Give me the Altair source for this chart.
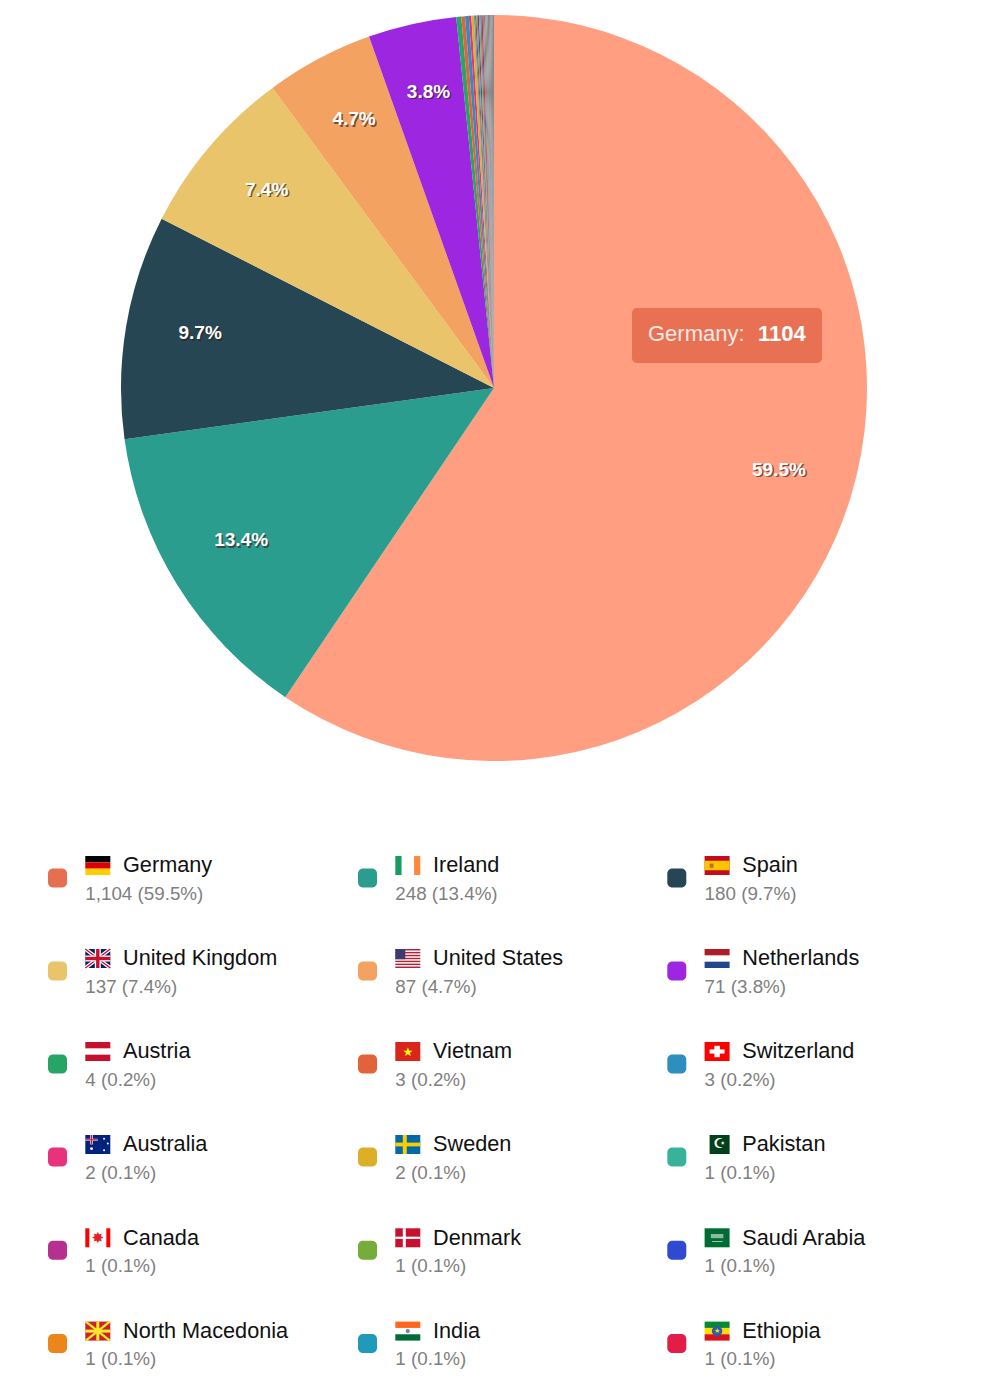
import altair as alt
import pandas as pd

# ---- values ----
NAMES = ["Germany", "Ireland", "Spain", "United Kingdom", "United States", "Netherlands",
         "Austria", "Vietnam", "Switzerland", "Australia", "Sweden", "Pakistan",
         "Canada", "Denmark", "Saudi Arabia", "North Macedonia", "India", "Ethiopia"]
VALUES = [1104, 248, 180, 137, 87, 71, 4, 3, 3, 2, 2, 1, 1, 1, 1, 1, 1, 1]
SHARES = [59.5, 13.4, 9.7, 7.4, 4.7, 3.8, 0.2, 0.2, 0.2, 0.1, 0.1, 0.1, 0.1, 0.1, 0.1, 0.1, 0.1, 0.1]
COLORS = ["#E76F51", "#2A9D8F", "#264653", "#E9C46A", "#F4A261", "#9D26E0",
          "#27A567", "#E2633B", "#2E8FBF", "#E8327C", "#DDAE28", "#38B29B",
          "#B6308F", "#76AC3A", "#2F49D1", "#EC861A", "#1F9AB8", "#E11D48"]
# slices in the pie that have no legend row
EXTRA_NAMES = ["x1", "x2", "x3", "x4", "x5", "x6", "x7", "x8", "x9"]
EXTRA_VALUES = [1, 1, 1, 1, 1, 1, 1, 1, 1]
EXTRA_COLORS = ["#8A8F7A", "#7C86A0", "#A08A70", "#7F9A8E", "#8E7FA0", "#9A8A80", "#808890", "#8C8478", "#7E8C98"]
HOVER_COLOR = "#FF9E80"
TOOLTIP_NAME = "Germany:"
TOOLTIP_VALUE = "1104"

# ---- layout, in page pixels ----
W, H = 966, 1384
CX, CY, R = 494, 388, 373
COL_X = [48.0, 358.0, 667.3]
ROW_Y = [878, 971, 1064, 1157, 1250.3, 1343.6]

sx = alt.Scale(domain=[8, 8 + W], range=[0, W])
sy = alt.Scale(domain=[8, 8 + H], range=[0, H])

# ---- flags: fractions of the flag box ----
FLAG_RECTS = {
    "Germany": [(0, 0, 1, 1/3, "#000000"), (0, 1/3, 1, 2/3, "#DD0000"), (0, 2/3, 1, 1, "#FFCE00")],
    "Ireland": [(0, 0, 1/4, 1, "#169B62"), (3/4, 0, 1, 1, "#FF883E")],
    "Spain": [(0, 0, 1, 1, "#C60B1E"), (0, .25, 1, .75, "#FFC400"), (.2, .4, .36, .62, "#B5762F")],
    "United Kingdom": [(0, 0, 1, 1, "#012169")],
    "United States": [(0, 0, 1, 1, "#FFFFFF")] + [(0, i*2/13, 1, (i*2+1)/13, "#B22234") for i in range(7)] + [(0, 0, .4, 7/13, "#3C3B6E")],
    "Netherlands": [(0, 0, 1, 1/3, "#AE1C28"), (0, 2/3, 1, 1, "#21468B")],
    "Austria": [(0, 0, 1, 1/3, "#C8102E"), (0, 2/3, 1, 1, "#C8102E")],
    "Vietnam": [(0, 0, 1, 1, "#DA251D")],
    "Switzerland": [(0, 0, 1, 1, "#FF0000"), (.2, .39, .8, .61, "#FFFFFF"), (.39, .2, .61, .8, "#FFFFFF")],
    "Australia": [(0, 0, 1, 1, "#00247D"), (.2, 0, .3, .5, "#FFFFFF"), (0, .2, .5, .3, "#FFFFFF"), (.225, 0, .275, .5, "#CF142B"), (0, .22, .5, .28, "#CF142B")],
    "Sweden": [(0, 0, 1, 1, "#006AA7"), (.3, 0, .46, 1, "#FECC00"), (0, .4, 1, .6, "#FECC00")],
    "Pakistan": [(.2, 0, 1, 1, "#01411C")],
    "Canada": [(0, 0, .16, 1, "#FF0000"), (.84, 0, 1, 1, "#FF0000")],
    "Denmark": [(0, 0, 1, 1, "#C8102E"), (.3, 0, .42, 1, "#FFFFFF"), (0, .44, 1, .56, "#FFFFFF")],
    "Saudi Arabia": [(0, 0, 1, 1, "#006C35"), (.25, .3, .75, .52, "#8FB8A0"), (.3, .68, .72, .72, "#CFE3D5")],
    "North Macedonia": [(0, 0, 1, 1, "#CE2028")],
    "India": [(0, 0, 1, 1/3, "#FF671F"), (0, 2/3, 1, 1, "#046A38")],
    "Ethiopia": [(0, 0, 1, 1/3, "#078930"), (0, 1/3, 1, 2/3, "#FCDD09"), (0, 2/3, 1, 1, "#DA121A")],
}
FLAG_LINES = {
    "United Kingdom": [(0, 0, 1, 1, "#FFFFFF", 3.6), (0, 1, 1, 0, "#FFFFFF", 3.6),
                       (0, 0, 1, 1, "#C8102E", 1.4), (0, 1, 1, 0, "#C8102E", 1.4),
                       (.5, 0, .5, 1, "#FFFFFF", 6), (0, .5, 1, .5, "#FFFFFF", 6),
                       (.5, 0, .5, 1, "#C8102E", 3.4), (0, .5, 1, .5, "#C8102E", 3.4)],
    "North Macedonia": [(.5, 0, .5, 1, "#F8E92E", 3), (0, .5, 1, .5, "#F8E92E", 3),
                        (.02, 0, .98, 1, "#F8E92E", 2.4), (.02, 1, .98, 0, "#F8E92E", 2.4)],
}
# flag, x fraction, y fraction, point area, colour
FLAG_DOTS = [
    ("Ethiopia", .5, .5, 110, "#2B5BAE"),
    ("North Macedonia", .5, .5, 36, "#F8E92E"),
    ("India", .5, .5, 18, "#7A7FA8"),
    ("Australia", .75, .2, 4, "#FFFFFF"),
    ("Australia", .9, .45, 4, "#FFFFFF"),
    ("Australia", .75, .8, 4, "#FFFFFF"),
    ("Australia", .25, .72, 8, "#FFFFFF"),
]
# flag, glyph, x fraction, y fraction, font size, colour
FLAG_GLYPHS = [
    ("Vietnam", "★", .5, .5, 12, "#FFFF00"),
    ("Pakistan", "☪", .6, .47, 14, "#FFFFFF"),
    ("Canada", "✸", .5, .5, 15, "#EA1C24"),
    ("Ethiopia", "★", .5, .5, 7, "#FCDD09"),
]

FLAG_W, FLAG_H = 25, 19
FLAG_DX, FLAG_DY = 37.3, -22

# ---- tables ----
all_names = NAMES + EXTRA_NAMES
pie = pd.DataFrame({
    "name": all_names,
    "value": VALUES + EXTRA_VALUES,
    "idx": range(len(all_names)),
    "color": [HOVER_COLOR] + COLORS[1:] + EXTRA_COLORS,
    "label": [f"{s:.1f}%" if s >= 1 else "" for s in SHARES] + [""] * len(EXTRA_NAMES),
})

rows, rects, lines, dots, glyphs = [], [], [], [], []
pos = {}
for i, (n, v, s, c) in enumerate(zip(NAMES, VALUES, SHARES, COLORS)):
    x0, yc = COL_X[i % 3], ROW_Y[i // 3]
    pos[n] = (x0 + FLAG_DX, yc + FLAG_DY)
    rows.append({"name": n, "sub": f"{v:,} ({s}%)", "color": c,
                 "sw0": x0, "sw1": x0 + 19, "sy0": yc - 9.5, "sy1": yc + 9.5,
                 "fx": x0 + FLAG_DX, "tx": x0 + 75, "ty": yc - 12.7, "uy": yc + 15.6})
for n, items in FLAG_RECTS.items():
    fx, fy = pos[n]
    for a, b, c, d, col in items:
        rects.append({"x0": fx + a*FLAG_W, "x1": fx + c*FLAG_W, "y0": fy + b*FLAG_H, "y1": fy + d*FLAG_H, "c": col})
for n, items in FLAG_LINES.items():
    fx, fy = pos[n]
    for a, b, c, d, col, w in items:
        lines.append({"x0": fx + a*FLAG_W, "x1": fx + c*FLAG_W, "y0": fy + b*FLAG_H, "y1": fy + d*FLAG_H, "c": col, "w": w})
for n, a, b, size, col in FLAG_DOTS:
    fx, fy = pos[n]
    dots.append({"x": fx + a*FLAG_W, "y": fy + b*FLAG_H, "s": size, "c": col})
for n, g, a, b, size, col in FLAG_GLYPHS:
    fx, fy = pos[n]
    glyphs.append({"g": g, "x": fx + a*FLAG_W, "y": fy + b*FLAG_H, "s": size, "c": col})

legend = pd.DataFrame(rows)
FONT = "Liberation Sans"

# ---- pie ----
theta = alt.Theta("value:Q", stack=True)
slices = alt.Chart(pie).mark_arc(outerRadius=R, innerRadius=0).encode(
    theta=theta, order=alt.Order("idx:Q"),
    color=alt.Color("color:N", scale=None),
    x=alt.value(CX - 8), y=alt.value(CY - 8), detail="name:N")

def pie_text(color, dx, dy, opacity):
    return alt.Chart(pie).mark_text(radius=298, font=FONT, fontSize=19, fontWeight="bold",
                                    color=color, dx=dx, dy=dy - 5.5, opacity=opacity).encode(
        theta=theta, order=alt.Order("idx:Q"), text="label:N",
        x=alt.value(CX - 8), y=alt.value(CY - 8), detail="name:N")

# ---- tooltip ----
tip = pd.DataFrame({"x0": [632], "x1": [822], "y0": [308], "y1": [363],
                    "tx": [648], "vx": [758], "ty": [334], "a": [TOOLTIP_NAME], "b": [TOOLTIP_VALUE]})
X = lambda f: alt.X(f, scale=sx, axis=None)
Y = lambda f: alt.Y(f, scale=sy, axis=None)
tip_box = alt.Chart(tip).mark_rect(cornerRadius=5, color="#E76F51", opacity=.95).encode(
    x=X("x0:Q"), x2="x1:Q", y=Y("y0:Q"), y2="y1:Q")
tip_a = alt.Chart(tip).mark_text(align="left", font=FONT, fontSize=22, color="#FFFFFF", opacity=.85).encode(
    x=X("tx:Q"), y=Y("ty:Q"), text="a:N")
tip_b = alt.Chart(tip).mark_text(align="left", font=FONT, fontSize=22, fontWeight="bold", color="#FFFFFF").encode(
    x=X("vx:Q"), y=Y("ty:Q"), text="b:N")

# ---- legend ----
swatch = alt.Chart(legend).mark_rect(cornerRadius=5).encode(
    x=X("sw0:Q"), x2="sw1:Q", y=Y("sy0:Q"), y2="sy1:Q", color=alt.Color("color:N", scale=None))
name_text = alt.Chart(legend).mark_text(align="left", font=FONT, fontSize=21.7, color="#111111").encode(
    x=X("tx:Q"), y=Y("ty:Q"), text="name:N")
sub_text = alt.Chart(legend).mark_text(align="left", font=FONT, fontSize=18.8, color="#808080").encode(
    x=X("fx:Q"), y=Y("uy:Q"), text="sub:N")
flag_r = alt.Chart(pd.DataFrame(rects)).mark_rect().encode(
    x=X("x0:Q"), x2="x1:Q", y=Y("y0:Q"), y2="y1:Q", color=alt.Color("c:N", scale=None))
flag_l = alt.Chart(pd.DataFrame(lines)).mark_rule().encode(
    x=X("x0:Q"), x2="x1:Q", y=Y("y0:Q"), y2="y1:Q", color=alt.Color("c:N", scale=None),
    size=alt.Size("w:Q", scale=None))
flag_d = alt.Chart(pd.DataFrame(dots)).mark_circle(opacity=1).encode(
    x=X("x:Q"), y=Y("y:Q"), color=alt.Color("c:N", scale=None), size=alt.Size("s:Q", scale=None))
flag_g = alt.Chart(pd.DataFrame(glyphs)).mark_text(font="DejaVu Sans", baseline="middle").encode(
    x=X("x:Q"), y=Y("y:Q"), text="g:N", color=alt.Color("c:N", scale=None), size=alt.Size("s:Q", scale=None))

chart = alt.layer(
    slices, pie_text("#3A2018", 1.5, 1.5, .65), pie_text("#FFFFFF", 0, 0, 1),
    tip_box, tip_a, tip_b, swatch, flag_r, flag_l, flag_d, flag_g, name_text, sub_text
).resolve_scale(color="independent", size="independent").properties(
    width=W, height=H, padding=0, background="#FFFFFF"
).configure_view(stroke=None)

chart.save("out.html", embed_options={"renderer": "svg", "actions": False})
